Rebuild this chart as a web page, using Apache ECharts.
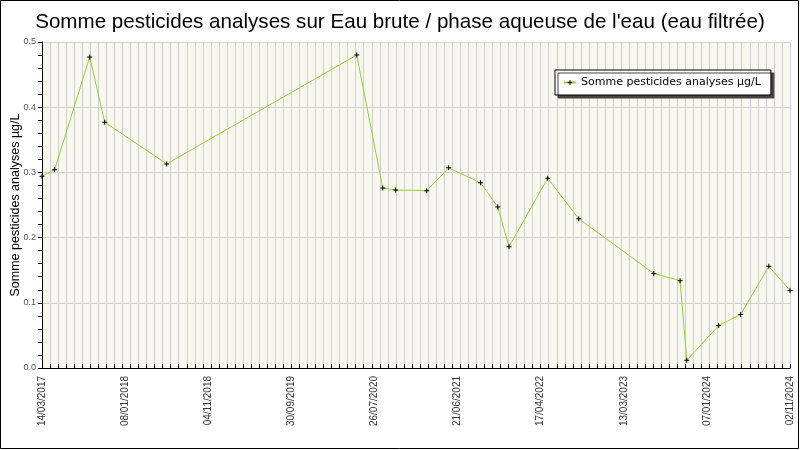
<!DOCTYPE html>
<html>
<head>
<meta charset="utf-8">
<script src="https://cdn.jsdelivr.net/npm/echarts@6/dist/echarts.min.js"></script>
<style>
  html, body { margin: 0; padding: 0; background: #fff; }
  #chart { width: 800px; height: 450px; }
</style>
</head>
<body>
<div id="chart"></div>
<script>
// x axis: days since 14/03/2017, labels are evenly spaced over the range
var dayRange = 2790;
var labelStep = 310;
var minorStep = 30;
var tickLabels = ['14/03/2017', '08/01/2018', '04/11/2018', '30/09/2019', '26/07/2020',
                  '21/06/2021', '17/04/2022', '13/03/2023', '07/01/2024', '02/11/2024'];

// samples (day offset, value in µg/L)
var sampleDays = [0, 47, 178, 234, 465, 1174, 1271, 1319, 1435, 1517, 1636,
                  1700, 1742, 1886, 2002, 2282, 2380, 2405, 2524, 2606, 2711, 2790];
var sampleValues = [0.294, 0.304, 0.477, 0.377, 0.313, 0.480, 0.276, 0.273, 0.272, 0.307, 0.284,
                    0.247, 0.186, 0.291, 0.229, 0.145, 0.134, 0.012, 0.065, 0.082, 0.156, 0.119];

var seriesName = 'Somme pesticides analyses µg/L';
var titleText = "Somme pesticides analyses sur Eau brute / phase aqueuse de l'eau (eau filtrée)";

var points = sampleDays.map(function (d, i) { return [d, sampleValues[i]]; });

var chart = echarts.init(document.getElementById('chart'));

var option = {
    animation: false,
    backgroundColor: '#fff',
    title: {
        text: titleText,
        left: 'center',
        top: 7,
        textStyle: { fontFamily: 'Liberation Sans', fontSize: 20.6, fontWeight: 'normal', color: '#000' }
    },
    graphic: [{
        type: 'rect',
        shape: { x: 0.5, y: 0.5, width: 798, height: 448 },
        style: { fill: 'none', stroke: '#000', lineWidth: 1 },
        z: 100
    }],
    grid: {
        left: 42, right: 10, top: 42, bottom: 82,
        outerBoundsMode: 'none',
        containLabel: false,
        show: true, backgroundColor: '#f8f8f0', borderWidth: 0
    },
    legend: {
        data: [seriesName],
        left: 555, top: 70,
        padding: [7, 10, 7, 8],
        itemWidth: 12, itemHeight: 6,
        backgroundColor: '#fff',
        borderColor: '#000', borderWidth: 1,
        shadowColor: '#444', shadowBlur: 0, shadowOffsetX: 3, shadowOffsetY: 3,
        textStyle: { fontFamily: 'DejaVu Sans', fontSize: 11, color: '#000' }
    },
    xAxis: [{
        type: 'value',
        min: 0, max: dayRange, interval: labelStep,
        axisLine: { lineStyle: { color: '#000', width: 1 } },
        axisTick: { show: false },
        splitLine: { show: false },
        axisLabel: {
            rotate: 90,
            fontFamily: 'Liberation Sans', fontSize: 10, color: '#333',
            showMinLabel: true, showMaxLabel: true,
            formatter: function (v) { return tickLabels[Math.round(v / labelStep)]; }
        }
    }, {
        type: 'value',
        position: 'bottom',
        min: 0, max: dayRange, interval: minorStep,
        axisLine: { show: false },
        axisTick: { show: true, inside: true, length: 4, lineStyle: { color: '#000' } },
        axisLabel: { show: false },
        splitLine: { show: true, lineStyle: { color: '#cfcfcf', width: 1 } }
    }],
    yAxis: {
        type: 'value',
        min: 0, max: 0.5, interval: 0.1,
        name: seriesName,
        nameLocation: 'middle',
        nameGap: 20,
        nameMoveOverlap: false,
        nameTextStyle: { fontFamily: 'Liberation Sans', fontSize: 12.5, color: '#000' },
        axisLine: { show: true, lineStyle: { color: '#000', width: 1 } },
        axisTick: { show: true, length: 4, lineStyle: { color: '#000' } },
        minorTick: { show: true, splitNumber: 5, length: 4, lineStyle: { color: '#000' } },
        axisLabel: {
            fontFamily: 'Liberation Sans', fontSize: 9, color: '#555', margin: 6,
            formatter: function (v) { return v.toFixed(1); }
        },
        splitLine: { show: true, lineStyle: { color: '#cfcfcf', width: 1 } }
    },
    series: [{
        name: seriesName,
        type: 'line',
        xAxisIndex: 0,
        data: points,
        symbol: 'path://M2,0H3V5H2Z M0,2H5V3H0Z',
        symbolSize: 5,
        showAllSymbol: true,
        itemStyle: { color: '#000' },
        lineStyle: { color: '#9acd32', width: 1 }
    }]
};

chart.setOption(option);
</script>
</body>
</html>
